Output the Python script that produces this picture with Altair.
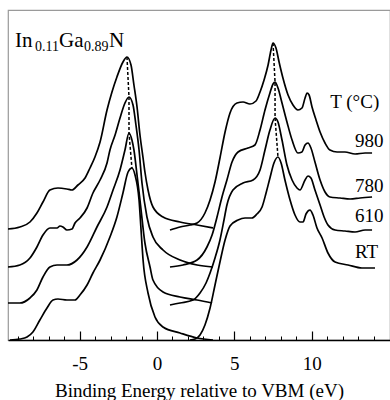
import altair as alt
import pandas as pd

# ---- spectra: binding energy (eV) and intensity (arb. units, stacked) ----
E_980_L = [-9.63, -8.86, -8.21, -7.76, -7.37, -6.92, -6.40, -5.82, -5.49, -5.11, -4.65, -4.33, -4.01, -3.68, -3.23, -2.91, -2.59, -2.20, -1.94, -1.68, -1.49, -1.29, -1.10, -0.90, -0.78, -0.58, -0.26, 0.39, 1.49, 2.59, 3.62]
I_980_L = [111, 113, 118, 127, 138, 150, 152, 151, 150, 155, 162, 172, 183, 198, 230, 248, 263, 278, 283, 275, 255, 233, 205, 182, 168, 150, 133, 123, 118, 115, 112]
E_980_R = [0.84, 1.49, 2.13, 2.59, 3.10, 3.43, 3.75, 4.07, 4.40, 4.72, 5.17, 5.56, 6.01, 6.40, 6.66, 6.92, 7.18, 7.37, 7.50, 7.69, 7.89, 8.14, 8.47, 8.79, 9.11, 9.37, 9.57, 9.70, 9.83, 10.02, 10.28, 10.54, 10.86, 11.18, 11.64, 12.15, 12.80, 13.45, 13.90]
I_980_R = [110, 113, 115, 117, 127, 140, 158, 182, 208, 227, 237, 238, 236, 239, 248, 260, 275, 290, 297, 292, 278, 262, 245, 235, 230, 232, 242, 247, 245, 233, 220, 208, 197, 190, 188, 188, 186, 187, 187]

E_780_L = [-9.63, -8.86, -8.21, -7.76, -7.37, -6.92, -6.46, -6.27, -6.08, -5.82, -5.49, -5.30, -4.98, -4.52, -4.14, -3.68, -3.23, -3.04, -2.71, -2.39, -2.07, -1.81, -1.55, -1.36, -1.16, -0.97, -0.65, -0.26, 0.39, 1.49, 2.59, 3.62]
I_780_L = [73, 75, 82, 93, 105, 112, 112, 114, 113, 110, 111, 117, 122, 132, 147, 160, 177, 190, 205, 222, 237, 243, 235, 215, 190, 157, 123, 103, 90, 80, 75, 73]
E_780_R = [0.84, 1.68, 2.59, 3.23, 3.56, 3.88, 4.20, 4.52, 4.85, 5.24, 5.88, 6.33, 6.66, 6.98, 7.30, 7.50, 7.63, 7.82, 8.08, 8.40, 8.73, 9.11, 9.37, 9.57, 9.76, 9.95, 10.21, 10.54, 10.86, 11.18, 11.83, 12.48, 13.12, 13.90]
I_780_R = [73, 75, 80, 93, 105, 123, 143, 160, 178, 188, 192, 195, 210, 230, 247, 256, 258, 252, 237, 218, 200, 187, 188, 195, 197, 192, 178, 160, 148, 143, 142, 141, 142, 143]

E_610_L = [-9.63, -8.86, -8.21, -7.76, -7.37, -6.92, -6.46, -5.82, -5.17, -4.52, -3.88, -3.23, -2.84, -2.39, -2.07, -1.81, -1.62, -1.49, -1.29, -1.10, -0.78, -0.45, -0.26, 0.39, 1.49, 2.59, 3.56]
I_610_L = [37, 37, 42, 50, 63, 73, 75, 75, 80, 93, 113, 133, 150, 170, 190, 207, 200, 190, 165, 140, 97, 73, 60, 48, 43, 40, 37]
E_610_R = [0.84, 1.49, 2.33, 2.78, 3.17, 3.43, 3.75, 4.07, 4.33, 4.52, 4.91, 5.56, 6.21, 6.66, 6.98, 7.30, 7.63, 7.82, 8.08, 8.40, 8.73, 9.05, 9.24, 9.57, 9.76, 9.95, 10.21, 10.54, 10.80, 11.05, 11.51, 12.15, 12.80, 13.45, 13.90]
I_610_R = [35, 37, 40, 47, 57, 67, 82, 100, 120, 135, 150, 157, 160, 170, 190, 210, 222, 218, 200, 175, 160, 152, 150, 160, 164, 162, 150, 135, 123, 115, 110, 109, 108, 110, 110]

E_RT_L = [-9.50, -8.86, -8.40, -8.02, -7.57, -7.11, -6.72, -6.40, -5.82, -5.30, -4.98, -4.52, -4.14, -3.68, -3.04, -2.59, -2.20, -1.87, -1.62, -1.42, -1.16, -1.03, -0.90, -0.58, -0.13, 0.39, 1.49, 2.59, 3.62]
I_RT_L = [0, 1, 3, 8, 20, 32, 40, 41, 40, 40, 45, 55, 67, 80, 103, 123, 147, 168, 172, 165, 140, 110, 80, 47, 23, 13, 7, 2, 0]
E_RT_R = [2.13, 2.46, 2.78, 3.10, 3.43, 3.75, 4.07, 4.40, 4.72, 5.24, 5.69, 6.14, 6.46, 6.79, 7.05, 7.30, 7.56, 7.82, 8.02, 8.27, 8.60, 8.92, 9.24, 9.44, 9.63, 9.89, 10.08, 10.34, 10.67, 11.05, 11.51, 12.35, 13.25, 14.09]
I_RT_R = [0, 1, 5, 15, 32, 55, 78, 100, 114, 120, 122, 122, 126, 133, 147, 162, 177, 183, 177, 160, 140, 125, 118, 118, 126, 130, 125, 112, 102, 87, 78, 75, 72, 72]

# peak positions marked by dashed guide lines
PEAK_L_E = [-1.94, -1.81, -1.81, -1.62]
PEAK_L_I = [283, 243, 207, 172]
PEAK_R_E = [7.50, 7.63, 7.63, 7.82]
PEAK_R_I = [297, 258, 222, 183]

# temperature labels
TEMP_LABELS = ["T (°C)", "980", "780", "610", "RT"]
TEMP_E = [11.2, 12.8, 12.8, 12.8, 12.8]
TEMP_I = [232, 193, 148, 118, 82]

# sample name pieces (In_0.11 Ga_0.89 N)
NAME_BIG = ["In", "Ga", "N"]
NAME_BIG_E = [-9.18, -6.33, -3.10]
NAME_SUB = ["0.11", "0.89"]
NAME_SUB_E = [-7.89, -4.72]
NAME_I_BIG = 293
NAME_I_SUB = 289

X_TICKS_MAJOR = [-5, 0, 5, 10]
X_TICKS_MINOR = list(range(-9, 15))

# ---- tables ----
rows = []
for key, Es, Is in [("980L", E_980_L, I_980_L), ("980R", E_980_R, I_980_R),
                    ("780L", E_780_L, I_780_L), ("780R", E_780_R, I_780_R),
                    ("610L", E_610_L, I_610_L), ("610R", E_610_R, I_610_R),
                    ("RTL", E_RT_L, I_RT_L), ("RTR", E_RT_R, I_RT_R)]:
    for i, (e, v) in enumerate(zip(Es, Is)):
        rows.append({"E": e, "I": v, "key": key, "n": i})
spec = pd.DataFrame(rows)

prow = []
for i, (e, v) in enumerate(zip(PEAK_L_E, PEAK_L_I)):
    prow.append({"E": e, "I": v, "side": "L", "n": i})
for i, (e, v) in enumerate(zip(PEAK_R_E, PEAK_R_I)):
    prow.append({"E": e, "I": v, "side": "R", "n": i})
peaks = pd.DataFrame(prow)

labels = pd.DataFrame({"E": TEMP_E, "I": TEMP_I, "t": TEMP_LABELS})
big = pd.DataFrame({"E": NAME_BIG_E, "I": [NAME_I_BIG] * 3, "t": NAME_BIG})
sub = pd.DataFrame({"E": NAME_SUB_E, "I": [NAME_I_SUB] * 2, "t": NAME_SUB})

FONT = "Liberation Serif"
xs = alt.Scale(domain=[-9.63, 15.06], nice=False, zero=False)
ys = alt.Scale(domain=[0, 330], nice=False, zero=False)

main_axis = alt.Axis(values=X_TICKS_MAJOR, ticks=False, grid=False, domain=True,
                     domainColor="black", domainWidth=1.5, labelFont=FONT,
                     labelFontSize=19, labelColor="black", labelPadding=14,
                     labelExpr="'' + datum.value",
                     title="Binding Energy relative to VBM (eV)", titleFont=FONT,
                     titleFontSize=19, titleFontWeight="normal", titleColor="black",
                     titlePadding=8, orient="bottom")
major_axis = alt.Axis(values=X_TICKS_MAJOR, ticks=True, tickSize=9, tickWidth=1.2,
                      tickColor="black", labels=False, domain=False, grid=False,
                      title=None, offset=-9, orient="bottom")
minor_axis = alt.Axis(values=X_TICKS_MINOR, ticks=True, tickSize=4, tickWidth=1,
                      tickColor="black", labels=False, domain=False, grid=False,
                      title=None, offset=-4, orient="bottom")

lines = alt.Chart(spec).mark_line(color="black", strokeWidth=1.7, interpolate="monotone").encode(
    x=alt.X("E:Q", scale=xs, axis=main_axis),
    y=alt.Y("I:Q", scale=ys, axis=None),
    detail="key:N",
    order="n:Q",
)

guides = alt.Chart(peaks).mark_line(color="black", strokeWidth=1.5, strokeDash=[3, 2]).encode(
    x=alt.X("E:Q", scale=xs, axis=major_axis),
    y=alt.Y("I:Q", scale=ys, axis=None),
    detail="side:N",
    order="n:Q",
)

temp_text = alt.Chart(labels).mark_text(font=FONT, fontSize=19, align="left",
                                        baseline="alphabetic", color="black").encode(
    x=alt.X("E:Q", scale=xs, axis=minor_axis),
    y=alt.Y("I:Q", scale=ys, axis=None),
    text="t:N",
)

big_text = alt.Chart(big).mark_text(font=FONT, fontSize=21, align="left",
                                    baseline="alphabetic", color="black").encode(
    x=alt.X("E:Q", scale=xs, axis=None),
    y=alt.Y("I:Q", scale=ys, axis=None),
    text="t:N",
)

sub_text = alt.Chart(sub).mark_text(font=FONT, fontSize=14, align="left",
                                    baseline="alphabetic", color="black").encode(
    x=alt.X("E:Q", scale=xs, axis=None),
    y=alt.Y("I:Q", scale=ys, axis=None),
    text="t:N",
)

chart = alt.layer(lines, guides, temp_text, big_text, sub_text).resolve_axis(
    x="independent"
).properties(
    width=382, height=330,
    autosize=alt.AutoSizeParams(type="none"),
    padding={"left": 8, "top": 10, "right": 0, "bottom": 60},
    background="white",
).configure_view(stroke="#9a9a9a", strokeWidth=1.2)

chart.save("out.html", embed_options={"renderer": "svg", "actions": False})
